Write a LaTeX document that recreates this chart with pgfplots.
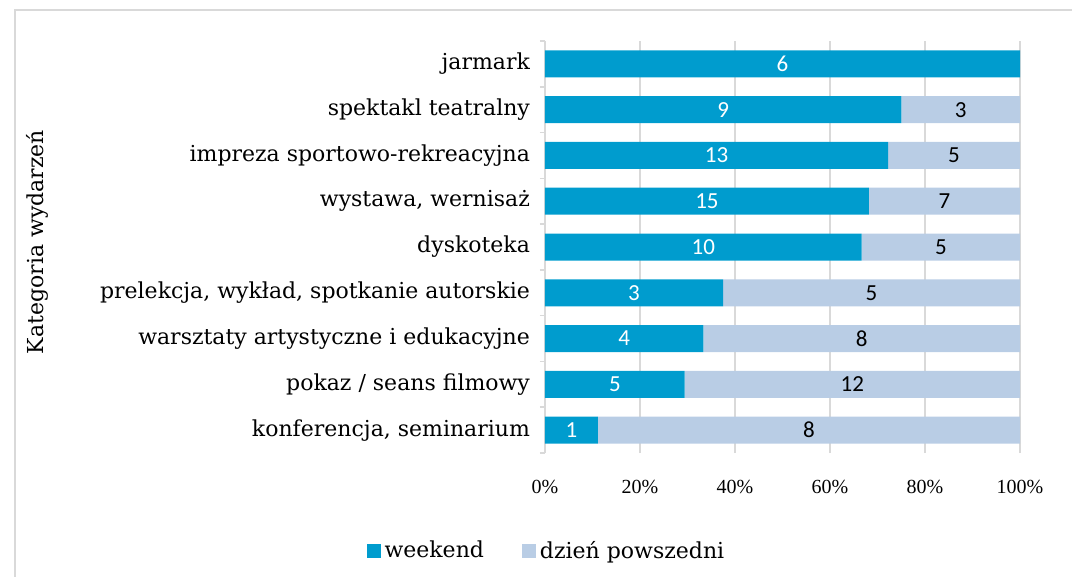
\documentclass[border=0pt]{standalone}
\usepackage{fontspec}
\setmainfont{DejaVu Serif}
\newfontfamily\tickfont{Liberation Serif}
\newfontfamily\lblfont{Carlito}
\usepackage{pgfplots}
\usepackage{pgfplotstable}
\pgfplotsset{compat=1.18}
\definecolor{wkc}{RGB}{0,156,206}
\definecolor{wdc}{RGB}{185,205,229}
\definecolor{gridc}{RGB}{217,217,217}

\pgfplotstableread{
y wkp wdp wk wd
0 11.111 88.889 1 8
1 29.412 70.588 5 12
2 33.333 66.667 4 8
3 37.5 62.5 3 5
4 66.667 33.333 10 5
5 68.182 31.818 15 7
6 72.222 27.778 13 5
7 75 25 9 3
8 100 0 6 {}
}\data

\begin{document}
\begin{tikzpicture}
\useasboundingbox (0,0) rectangle (536pt,-288.5pt);
\draw[gridc, line width=0.75pt] (7.5pt,-288.5pt) -- (7.5pt,-5pt) -- (536pt,-5pt);
\node[rotate=90, font=\fontsize{11}{13}\selectfont] at (18.5pt,-121pt) {Kategoria wydarzeń};
\begin{axis}[
  at={(272.5pt,-226.5pt)}, anchor=south west,
  width=237.5pt, height=206pt, scale only axis,
  xbar stacked, bar width=13.5pt,
  xmin=0, xmax=100, ymin=-0.5, ymax=8.5,
  xtick={0,20,...,100},
  xticklabel={\pgfmathprintnumber{\tick}\%},
  /pgf/number format/assume math mode=true,
  ytick={0,...,8},
  yticklabels={{konferencja, seminarium},{pokaz / seans filmowy},{warsztaty artystyczne i edukacyjne},{prelekcja, wykład, spotkanie autorskie},{dyskoteka},{wystawa, wernisaż},{impreza sportowo-rekreacyjna},{spektakl teatralny},{jarmark}},
  minor ytick={-0.5,0.5,...,8.5},
  major tick length=0pt, minor tick length=2.5pt, tick align=outside,
  minor y tick style={gridc, line width=0.75pt},
  axis lines*=left,
  axis line style={-},
  x axis line style={draw=none},
  y axis line style={gridc, line width=0.75pt},
  xmajorgrids, grid style={gridc, line width=0.75pt},
  xticklabel style={font=\tickfont\fontsize{10}{11}\selectfont, yshift=-10pt},
  yticklabel style={font=\fontsize{11}{13}\selectfont, xshift=-4pt},
  legend style={at={(0.005,-0.238)}, anchor=center, draw=none, legend columns=2,
    font=\fontsize{11}{13}\selectfont,
    /tikz/every even column/.append style={column sep=17pt}},
  legend image code/.code={\fill[#1] (0pt,-3.5pt) rectangle (7pt,3.5pt);},
  every node near coord/.append style={font=\lblfont\fontsize{11.5}{13}\selectfont, anchor=center},
]
\addplot[fill=wkc, draw=none,
  point meta=explicit symbolic,
  nodes near coords,
  every node near coord/.append style={text=white}]
  table[x=wkp, y=y, meta=wk] {\data};
\addlegendentry{weekend}
\addplot[fill=wdc, draw=none,
  point meta=explicit symbolic,
  nodes near coords,
  every node near coord/.append style={text=black}]
  table[x=wdp, y=y, meta=wd] {\data};
\addlegendentry{dzień powszedni}
\end{axis}
\end{tikzpicture}
\end{document}
